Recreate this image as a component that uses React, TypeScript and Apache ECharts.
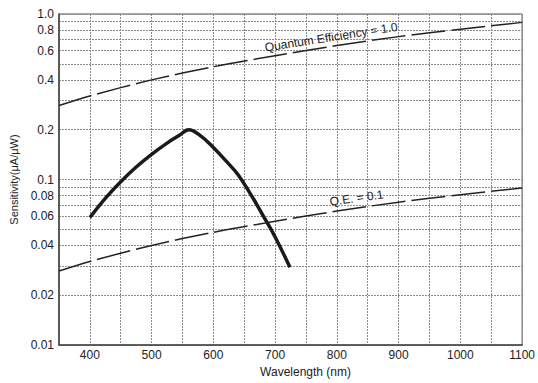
import React, { useEffect, useRef } from 'react';
import * as echarts from 'echarts';

// Axis ticks
const xMin = 350;
const xMax = 1100;
const xLabelStep = 100;
const yLabelValues = [0.01, 0.02, 0.04, 0.06, 0.08, 0.1, 0.2, 0.4, 0.6, 0.8, 1.0];
const yGridValues = [
  0.01, 0.02, 0.03, 0.04, 0.05, 0.06, 0.07, 0.08, 0.09,
  0.1, 0.2, 0.3, 0.4, 0.5, 0.6, 0.7, 0.8, 0.9, 1.0,
];

// Quantum efficiency reference lines
const qeWavelength = [350, 400, 500, 600, 700, 800, 900, 1000, 1100];
const qe1Values = [0.28, 0.32, 0.4, 0.48, 0.56, 0.645, 0.73, 0.81, 0.89];
const qe01Values = [0.028, 0.032, 0.04, 0.048, 0.056, 0.0645, 0.073, 0.081, 0.089];

// Measured sensitivity curve
const sensWavelength = [400, 425, 450, 475, 500, 525, 545, 560, 580, 600, 620, 640, 660, 680, 700, 724];
const sensValues = [0.059, 0.077, 0.097, 0.119, 0.142, 0.166, 0.185, 0.2, 0.183, 0.156, 0.13, 0.107, 0.082, 0.061, 0.045, 0.0295];

const FONT = '"Liberation Sans", Arial, Helvetica, sans-serif';
const INK = '#222';

export default function App() {
  const ref = useRef<HTMLDivElement>(null);

  useEffect(() => {
    document.body.style.margin = '0';
    const chart = echarts.init(ref.current!, null, { renderer: 'svg' });
    const gridLine = { show: true, lineStyle: { color: '#8c8c8c', width: 1, type: [2, 1] as any } };

    chart.setOption({
      animation: false,
      backgroundColor: '#fff',
      textStyle: { fontFamily: FONT },
      grid: {
        left: 59, right: 14, top: 14, bottom: 37,
        show: true, borderColor: '#555', borderWidth: 1,
      },
      xAxis: {
        type: 'value',
        min: xMin,
        max: xMax,
        interval: 50,
        name: 'Wavelength (nm)',
        nameLocation: 'middle',
        nameGap: 20,
        nameTextStyle: { fontFamily: FONT, fontSize: 12, color: INK, padding: [0, 0, 0, 30] },
        axisLine: { show: true, lineStyle: { color: '#444', width: 1.5 } },
        axisTick: { show: false },
        axisLabel: {
          fontFamily: FONT, fontSize: 12, color: INK, margin: 4,
          formatter: (v: number) => (v % xLabelStep === 0 && v > xMin ? String(v) : ''),
        },
        splitLine: gridLine,
      },
      yAxis: {
        type: 'log',
        logBase: 10,
        min: 0.01,
        max: 1,
        name: 'Sensitivity(μA/μW)',
        nameLocation: 'middle',
        nameGap: 39,
        nameRotate: 90,
        nameTextStyle: { fontFamily: FONT, fontSize: 11, color: INK },
        axisLine: { show: true, lineStyle: { color: '#444', width: 1.5 } },
        axisTick: { show: false, customValues: yGridValues },
        axisLabel: {
          fontFamily: FONT, fontSize: 12, color: INK, margin: 5,
          customValues: yLabelValues,
          formatter: (v: number) => (Math.abs(v - 1) < 1e-9 ? '1.0' : String(+v.toPrecision(3))),
        },
        splitLine: gridLine,
      },
      series: [
        {
          type: 'line',
          name: 'QE 1.0',
          data: qeWavelength.map((w, i) => [w, qe1Values[i]]),
          smooth: 0.3,
          symbol: 'none',
          lineStyle: { color: INK, width: 1.5, type: [34, 6] as any },
          markPoint: {
            symbol: 'circle',
            symbolSize: 0,
            data: [
              {
                coord: [793, 0.64],
                label: {
                  show: true,
                  formatter: 'Quantum Efficiency = 1.0',
                  rotate: 9,
                  offset: [0, -9],
                  color: INK,
                  fontFamily: FONT,
                  fontSize: 12,
                },
              },
            ],
          },
        },
        {
          type: 'line',
          name: 'QE 0.1',
          data: qeWavelength.map((w, i) => [w, qe01Values[i]]),
          smooth: 0.3,
          symbol: 'none',
          lineStyle: { color: INK, width: 1.5, type: [34, 6] as any },
          markPoint: {
            symbol: 'circle',
            symbolSize: 0,
            data: [
              {
                coord: [834, 0.0673],
                label: {
                  show: true,
                  formatter: 'Q.E. = 0.1',
                  rotate: 8,
                  offset: [0, -10],
                  color: INK,
                  fontFamily: FONT,
                  fontSize: 12,
                },
              },
            ],
          },
        },
        {
          type: 'line',
          name: 'Sensitivity',
          data: sensWavelength.map((w, i) => [w, sensValues[i]]),
          smooth: 0.4,
          symbol: 'none',
          lineStyle: { color: '#1a1a1a', width: 3.5, cap: 'butt' },
        },
      ],
    });

    return () => chart.dispose();
  }, []);

  return <div ref={ref} style={{ width: 538, height: 383 }} />;
}
